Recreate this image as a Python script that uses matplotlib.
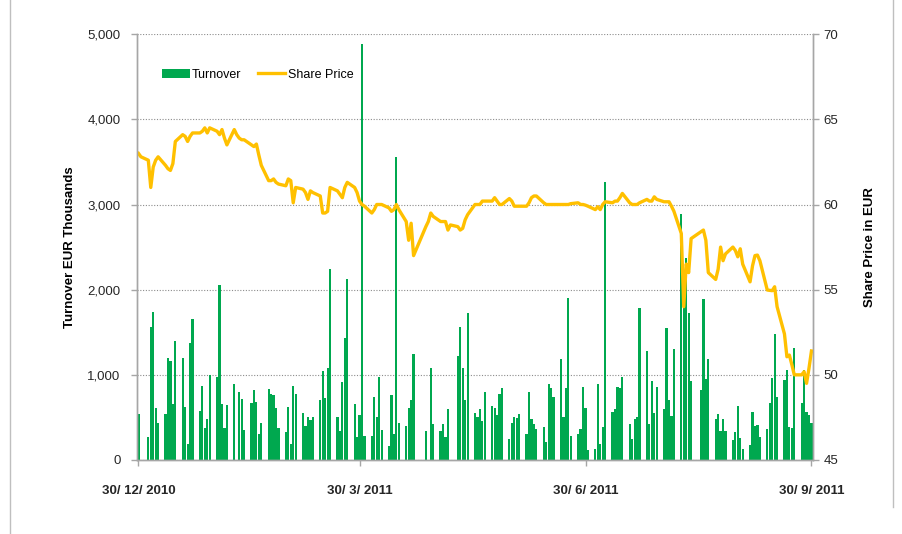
import numpy as np
import pandas as pd
import matplotlib
matplotlib.use("Agg")
import matplotlib.pyplot as plt
from matplotlib.lines import Line2D

plt.rcParams['font.family'] = ['Liberation Sans', 'DejaVu Sans']

# trading days 30/12/2010 .. 30/9/2011 (weekdays)
dates = pd.bdate_range("2010-12-30", "2011-09-30")

# turnover in EUR thousands, one value per weekday (0 = no trading)
turnover = [
    540, 0,
    270, 1565, 1735, 610, 430,
    540, 1200, 1165, 655, 1400,
    1200, 620, 190, 1370, 1650,
    580, 870, 370, 480, 1000,
    980, 2060, 655, 380, 640,
    890, 0, 800, 715, 350,
    665, 820, 680, 310, 430,
    835, 780, 760, 610, 380,
    325, 625, 190, 870, 770,
    550, 400, 500, 470, 510,
    700, 1050, 725, 1080, 2240,
    510, 340, 920, 1435, 2130,
    655, 275, 530, 4890, 285,
    285, 745, 510, 980, 350,
    160, 760, 305, 3560, 440,
    400, 615, 700, 1240, 0,
    0, 340, 0, 1075, 425,
    340, 425, 275, 600, 0,
    1225, 1565, 1085, 700, 1725,
    550, 510, 600, 460, 800,
    635, 610, 530, 775, 840,
    245, 430, 510, 490, 540,
    310, 800, 480, 420, 365,
    385, 215, 890, 840, 745,
    1185, 500, 850, 1905, 285,
    310, 360, 860, 610, 115,
    130, 890, 190, 385, 3260,
    560, 600, 860, 840, 970,
    420, 245, 480, 510, 1790,
    1285, 420, 930, 555, 860,
    600, 1550, 700, 515, 1300,
    2885, 2150, 2370, 1725, 930,
    0, 820, 1890, 950, 1185,
    480, 540, 345, 480, 345,
    235, 330, 635, 260, 130,
    175, 565, 400, 410, 275,
    365, 675, 960, 1485, 745,
    945, 1055, 385, 375, 1320,
    675, 1055, 565, 530, 440,
]

nan = np.nan
# share price in EUR (nan = holiday)
price = [
    63.0, 62.8,
    62.6, 61.0, 62.2, 62.6, 62.8,
    62.3, 62.1, 62.0, 62.4, 63.7,
    64.1, 64.0, 63.7, 64.0, 64.2,
    64.2, 64.3, 64.5, 64.2, 64.5,
    64.3, 64.1, 64.4, 63.9, 63.5,
    64.4, 64.1, 63.9, 63.8, 63.8,
    63.5, 63.4, 63.55, 62.9, 62.3,
    61.4, 61.4, 61.5, 61.3, 61.2,
    61.1, 61.5, 61.4, 60.1, 61.0,
    60.9, 60.7, 60.3, 60.8, 60.7,
    60.5, 59.5, 59.5, 59.6, 61.0,
    60.8, 60.6, 60.4, 61.0, 61.3,
    61.0, 60.7, 60.2, 60.0, 59.9,
    59.5, 59.7, 60.0, 60.0, 60.0,
    59.8, 59.6, 59.7, 60.0, 59.7,
    59.0, 57.9, 58.9, 57.0, nan,
    nan, 58.7, 59.0, 59.5, 59.3,
    59.0, 59.0, 59.0, 58.5, 58.8,
    58.7, 58.5, 58.6, 59.1, 59.4,
    60.0, 60.0, 60.0, 60.2, 60.2,
    60.2, 60.4, 60.2, 60.0, 60.0,
    60.35, 60.2, 59.9, 59.9, 59.9,
    59.9, 60.1, 60.4, 60.5, 60.5,
    60.1, 60.0, 60.0, 60.0, 60.0,
    60.0, 60.0, 60.0, 60.0, 60.05,
    60.1, 60.0, 60.0, 59.96, 59.9,
    59.7, 59.87, 59.7, 60.0, 60.16,
    60.1, 60.2, 60.2, 60.4, 60.65,
    60.1, 60.0, 60.0, 60.0, 60.1,
    60.3, 60.2, 60.2, 60.45, 60.3,
    60.16, 60.16, 60.16, 59.9, 59.6,
    58.3, 54.0, 56.5, 56.0, 58.0,
    nan, 58.4, 58.5, 57.9, 56.0,
    55.6, 56.2, 57.5, 56.7, 57.1,
    57.5, 57.3, 56.93, 57.4, 56.5,
    55.46, 56.4, 57.0, 57.03, 56.7,
    54.98, 54.96, 54.94, 55.17, 54.0,
    52.4, 51.06, 51.16, 50.6, 50.0,
    50.0, 50.18, 49.5, 50.4, 51.4,
]

tick_dates = pd.to_datetime(["2010-12-30", "2011-03-30", "2011-06-30", "2011-09-30"])

df = pd.DataFrame({"turnover": turnover, "price": price}, index=dates)

green = "#00A84F"
gold = "#FFC000"
axis_grey = "#A6A6A6"

fig = plt.figure(figsize=(9.03, 5.34), dpi=100)
ax = fig.add_axes([0.152, 0.1386, 0.748, 0.7974])
ax2 = ax.twinx()

ax.bar(df.index, df["turnover"], width=0.9, color=green, linewidth=0, label="Turnover")
pr = df["price"].dropna()
ax2.plot(pr.index, pr.values, color=gold, linewidth=2.4, label="Share Price", solid_joinstyle="round")

ax.set_xlim(tick_dates[0] - pd.Timedelta(hours=12), tick_dates[-1] + pd.Timedelta(hours=12))
ax.set_ylim(0, 5000)
ax2.set_ylim(45, 70)

ax.set_yticks(np.arange(0, 5001, 1000))
ax.set_yticklabels([f"{v:,}" for v in range(0, 5001, 1000)])
ax2.set_yticks(np.arange(45, 71, 5))

ax.set_xticks(tick_dates)
ax.set_xticklabels([f"{d.day}/ {d.month}/ {d.year}" for d in tick_dates],
                   fontweight="bold", fontsize=9.5)

for a in (ax, ax2):
    for s in a.spines.values():
        s.set_color(axis_grey)
        s.set_linewidth(1.0)
    a.spines["top"].set_visible(False)
    a.tick_params(axis="both", colors=axis_grey, labelcolor="#262626",
                  labelsize=9.5, length=4, width=1.0, direction="out")
ax.tick_params(axis="x", pad=14)
ax.tick_params(axis="y", pad=8)
ax2.tick_params(axis="y", pad=4)

ax.yaxis.grid(True, linestyle=(0, (1, 1.5)), color="#8C8C8C", linewidth=0.8)
ax.set_axisbelow(True)

ax.set_ylabel("Turnover EUR Thousands", fontweight="bold", fontsize=9.5, labelpad=8)
ax2.set_ylabel("Share Price in EUR", fontweight="bold", fontsize=9.5, labelpad=18)

h1, l1 = ax.get_legend_handles_labels()
h2, l2 = ax2.get_legend_handles_labels()
ax.legend(h1 + h2, l1 + l2, loc="upper left", bbox_to_anchor=(0.02, 0.945),
          ncol=2, frameon=False, fontsize=9, handlelength=2.2,
          columnspacing=1.3, handletextpad=0.2)

# outer chart border (left and right edges)
fig.add_artist(Line2D([10 / 903, 10 / 903], [0, 1], transform=fig.transFigure,
                      color="#BFBFBF", linewidth=1))
fig.add_artist(Line2D([893 / 903, 893 / 903], [0.05, 1], transform=fig.transFigure,
                      color="#BFBFBF", linewidth=1))

fig.savefig("out.png", dpi=100)
